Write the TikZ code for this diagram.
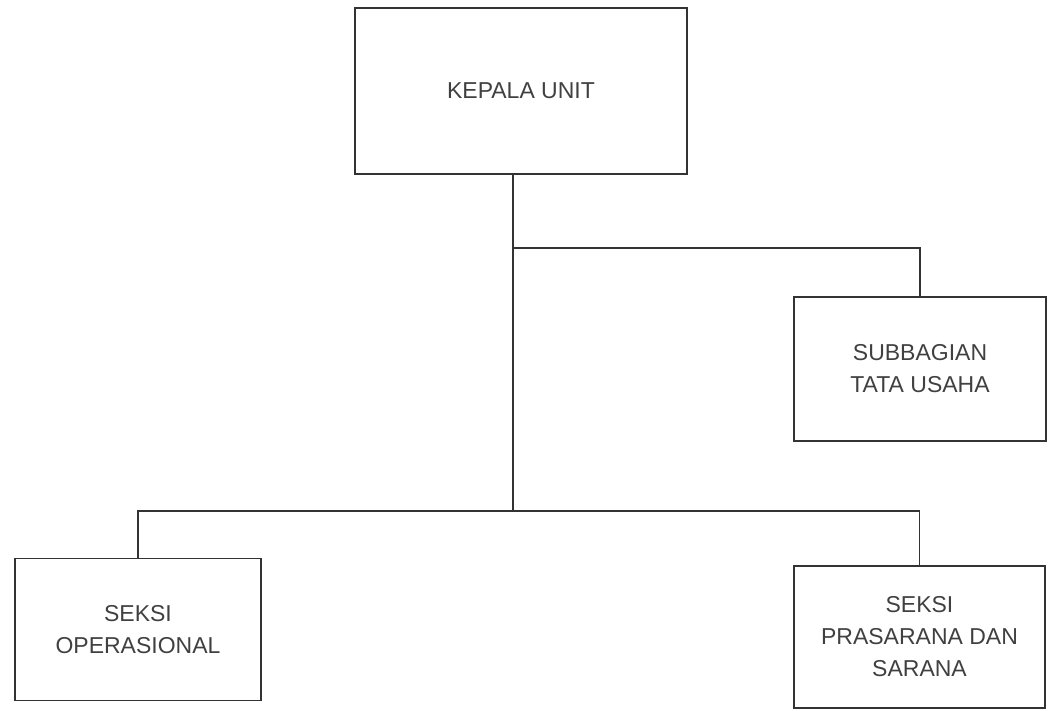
\documentclass[tikz,border=0pt]{standalone}
\usepackage{fontspec}
\setmainfont{Liberation Sans}
\begin{document}
\begin{tikzpicture}[x=1pt,y=-1pt,
  orgbox/.style={draw=black!80, line width=1.1pt, inner sep=0pt, align=center,
    text=black!75, font=\fontsize{23}{32}\selectfont},
  link/.style={draw=black!80, line width=1.1pt}]
\useasboundingbox (0,0) rectangle (1049,710);
\node[orgbox, minimum width=332pt, minimum height=166pt] (kepala) at (521,91) {KEPALA UNIT};
\node[orgbox, minimum width=252pt, minimum height=144pt] (sub) at (920,369) {SUBBAGIAN\\TATA USAHA};
\node[orgbox, minimum width=246pt, minimum height=142pt] (ops) at (138,629.5) {SEKSI\\OPERASIONAL};
\node[orgbox, minimum width=251pt, minimum height=142pt] (pras) at (919.5,637) {SEKSI\\PRASARANA DAN\\SARANA};
\coordinate (j1) at (513,248);
\coordinate (j2) at (513,511);
\draw[link] (j1 |- kepala.south) -- (j2);
\draw[link] (j1) -| (sub.north);
\draw[link] (ops.north) |- (j2) -| (pras.north);
\end{tikzpicture}
\end{document}
